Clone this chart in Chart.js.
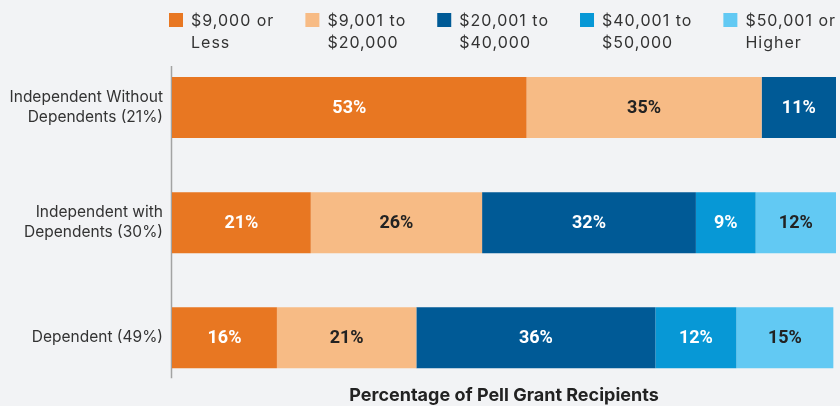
<!DOCTYPE html>
<html>
<head>
<meta charset="utf-8">
<script src="https://cdn.jsdelivr.net/npm/chart.js@4.4.1/dist/chart.umd.min.js"></script>
<style>
  html, body { margin: 0; padding: 0; background: #f2f3f5; }
  #wrap { width: 840px; height: 406px; }
</style>
</head>
<body>
<div id="wrap"><canvas id="pellChart"></canvas></div>
<script>
    // Pell grant recipients by dependency status and family income
    const categories = [['Independent Without', 'Dependents (21%)'], ['Independent with', 'Dependents (30%)'], 'Dependent (49%)'];
    const incomeBands = [['$9,000 or', 'Less'], ['$9,001 to', '$20,000'], ['$20,001 to', '$40,000'], ['$40,001 to', '$50,000'], ['$50,001 or', 'Higher']];
    const upTo9k = [53.4, 20.9, 15.8];
    const from9kTo20k = [35.4, 25.8, 21.0];
    const from20kTo40k = [11.2, 32.2, 36.0];
    const from40kTo50k = [null, 9.0, 12.2];
    const over50k = [null, 12.1, 14.6];

    const bandColors = ['#e87722', '#f7bb85', '#005a96', '#0798d6', '#62c9f3'];
    const labelColors = ['#ffffff', '#222222', '#ffffff', '#ffffff', '#222222'];
    const seriesValues = [upTo9k, from9kTo20k, from20kTo40k, from40kTo50k, over50k];

    const FONT = 'Inter';

    // legend drawn above the chart area, boxes aligned with the first text line
    const legendPlugin = {
        id: 'bandLegend',
        afterDraw(chart) {
            const ctx = chart.ctx;
            ctx.save();
            ctx.font = '16px ' + FONT;
            ctx.letterSpacing = '1px';
            ctx.textBaseline = 'middle';
            ctx.textAlign = 'left';
            let x = chart.chartArea.left - 3;
            chart.data.datasets.forEach((ds, i) => {
                const lines = ds.label;
                ctx.fillStyle = ds.backgroundColor;
                ctx.fillRect(x, 13, 14, 14);
                ctx.fillStyle = '#333333';
                let w = 0;
                lines.forEach((line, j) => {
                    ctx.fillText(line, x + 22, 21 + j * 22);
                    w = Math.max(w, ctx.measureText(line).width);
                });
                x += 22 + w + 31;
            });
            ctx.restore();
        }
    };

    // percentage labels in the middle of every segment
    const barLabelPlugin = {
        id: 'barLabels',
        afterDatasetsDraw(chart) {
            const ctx = chart.ctx;
            ctx.save();
            ctx.font = 'bold 18px Roboto';
            ctx.textAlign = 'center';
            ctx.textBaseline = 'middle';
            chart.data.datasets.forEach((ds, i) => {
                const meta = chart.getDatasetMeta(i);
                meta.data.forEach((bar, j) => {
                    const v = ds.data[j];
                    if (v === null) return;
                    ctx.fillStyle = labelColors[i];
                    ctx.fillText(Math.round(v) + '%', (bar.x + bar.base) / 2, bar.y + 1);
                });
            });
            ctx.restore();
        }
    };

    // thin vertical axis line spanning the bars
    const axisLinePlugin = {
        id: 'axisLine',
        beforeDatasetsDraw(chart) {
            const meta = chart.getDatasetMeta(0);
            const first = meta.data[0], last = meta.data[meta.data.length - 1];
            const ctx = chart.ctx;
            ctx.save();
            ctx.strokeStyle = '#a3a3a3';
            ctx.lineWidth = 1.5;
            ctx.beginPath();
            ctx.moveTo(chart.chartArea.left - 0.5, first.y - first.height / 2 - 11);
            ctx.lineTo(chart.chartArea.left - 0.5, last.y + last.height / 2 + 10);
            ctx.stroke();
            ctx.restore();
        }
    };

    const ctx = document.getElementById('pellChart').getContext('2d');
    new Chart(ctx, {
        type: 'bar',
        data: {
            labels: categories,
            datasets: seriesValues.map((vals, i) => ({
                label: incomeBands[i],
                data: vals,
                backgroundColor: bandColors[i],
                borderWidth: 0,
                barPercentage: 0.53,
                categoryPercentage: 1
            }))
        },
        options: {
            indexAxis: 'y',
            responsive: true,
            maintainAspectRatio: false,
            animation: false,
            layout: { padding: { top: 50, right: 4, left: 0, bottom: 0 } },
            plugins: {
                legend: { display: false },
                tooltip: { enabled: false }
            },
            scales: {
                x: {
                    stacked: true,
                    min: 0,
                    max: 100,
                    grid: { display: false, drawTicks: false },
                    border: { display: false },
                    ticks: { display: false },
                    title: {
                        display: true,
                        text: 'Percentage of Pell Grant Recipients',
                        color: '#222222',
                        font: { family: FONT, size: 18, weight: 'bold' },
                        padding: { top: -11, bottom: 0 }
                    }
                },
                y: {
                    stacked: true,
                    grid: { display: false, drawTicks: false },
                    border: { display: false },
                    ticks: {
                        color: '#333333',
                        font: { family: FONT, size: 15.5, lineHeight: 1.29 },
                        padding: 9
                    },
                    afterFit(scale) {
                        scale.width = 172;
                        scale.paddingTop = 0;
                        scale.paddingBottom = 0;
                    }
                }
            }
        },
        plugins: [legendPlugin, barLabelPlugin, axisLinePlugin]
    });
</script>
</body>
</html>
